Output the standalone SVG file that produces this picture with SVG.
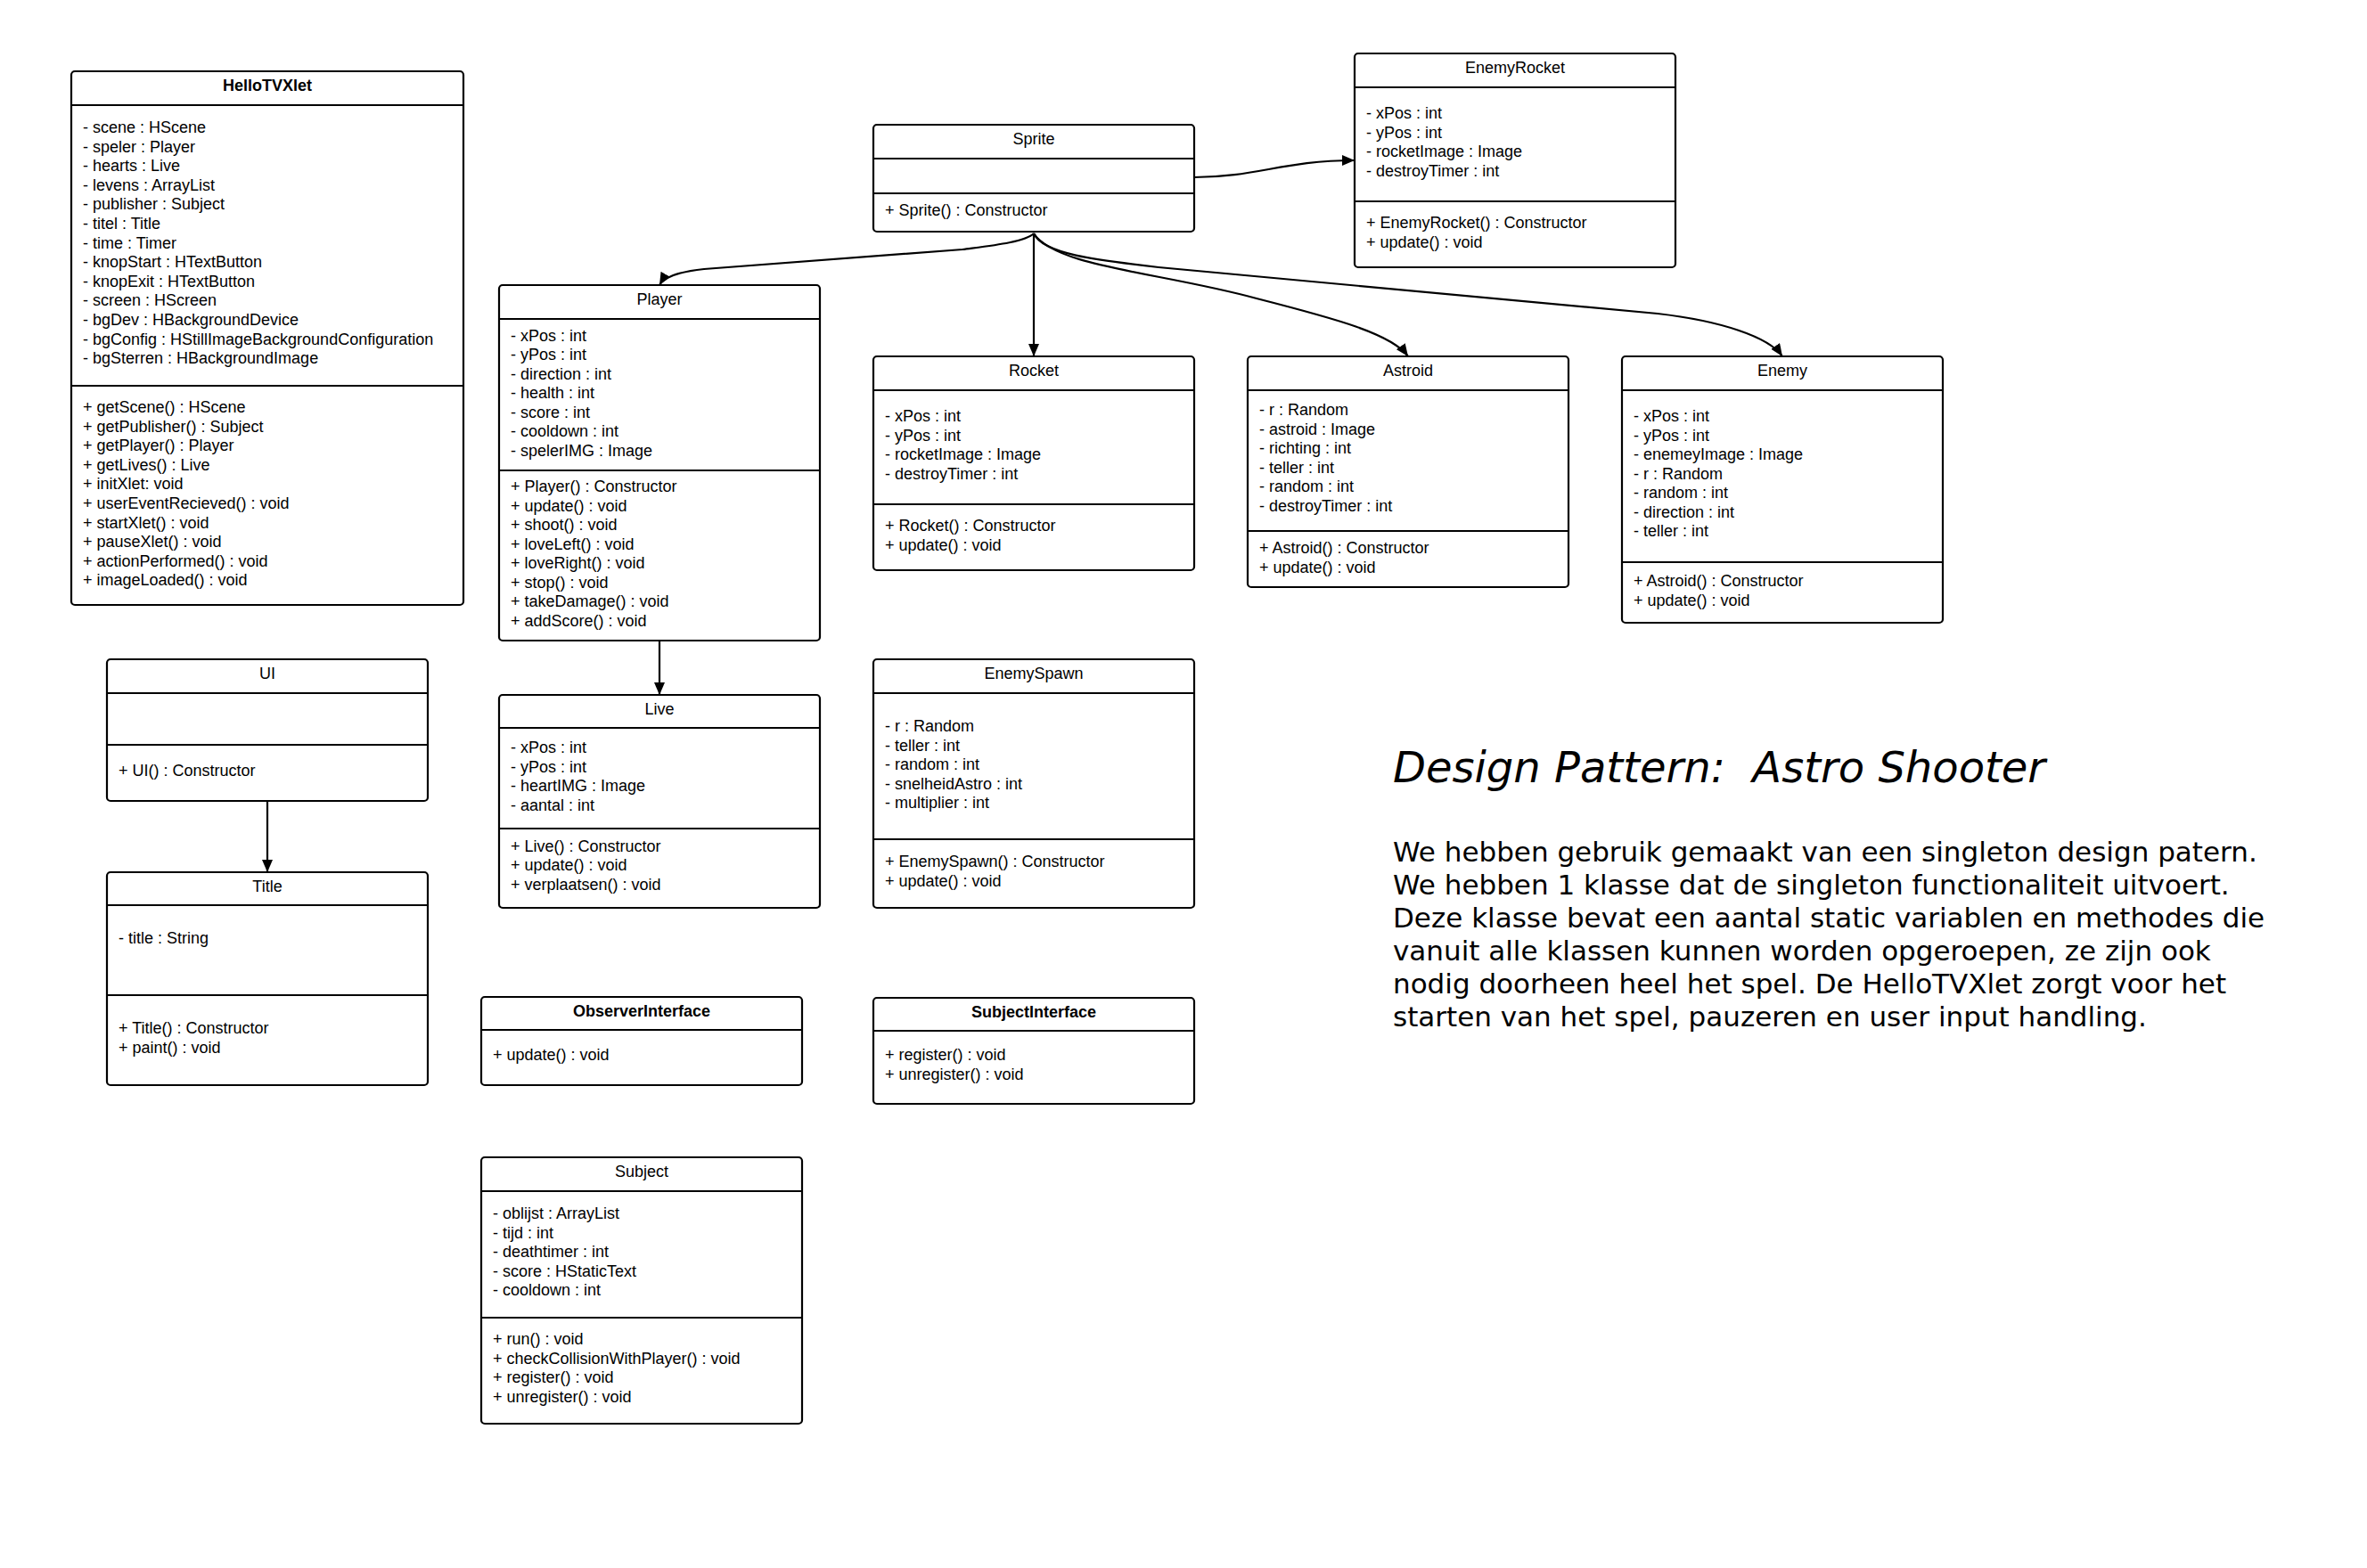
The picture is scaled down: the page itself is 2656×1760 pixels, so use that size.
<svg xmlns="http://www.w3.org/2000/svg" width="2656" height="1760" viewBox="0 0 2656 1760">
<style>
.box{fill:#fff;stroke:#000;stroke-width:2.2}
.ln{stroke:#000;stroke-width:2.2;fill:none}
.t{font-family:"Liberation Sans",Arial,sans-serif;font-size:18px;fill:#000}
.h{text-anchor:middle}
.b{font-weight:bold}
.con{fill:none;stroke:#000;stroke-width:2.2;marker-end:url(#arr)}
.desc{font-family:"DejaVu Sans",Verdana,sans-serif;fill:#000}
</style>
<defs>
<marker id="arr" viewBox="0 0 14 12" refX="14" refY="6" markerWidth="14" markerHeight="12" markerUnits="userSpaceOnUse" orient="auto">
<path d="M0,0 L14,6 L0,12 z" fill="#000"/>
</marker>
</defs>
<rect width="2656" height="1760" fill="#fff"/>

<g id="connectors">
<path class="con" d="M1160,262 C1150,272 1110,276 1080,280 L790,302 C762,305 745,311 740,320"/>
<path class="con" d="M1160,262 L1160,400"/>
<path class="con" d="M1160,262 C1185,300 1300,305 1410,335 C1500,358 1562,375 1580,400"/>
<path class="con" d="M1160,262 C1170,285 1230,292 1300,300 L1860,352 C1930,360 1985,378 2000,400"/>
<path class="con" d="M1340,199 C1410,199 1440,180 1520,180"/>
<path class="con" d="M740,719 L740,780"/>
<path class="con" d="M300,899 L300,979"/>
</g>

<g id="HelloTVXlet">
<rect class="box" x="80" y="80" width="440" height="599" rx="4"/>
<line class="ln" x1="80" y1="118" x2="520" y2="118"/>
<line class="ln" x1="80" y1="433" x2="520" y2="433"/>
<text class="t h b" x="300" y="102">HelloTVXlet</text>
<text class="t" x="93" y="149">- scene : HScene</text>
<text class="t" x="93" y="170.6">- speler : Player</text>
<text class="t" x="93" y="192.2">- hearts : Live</text>
<text class="t" x="93" y="213.8">- levens : ArrayList</text>
<text class="t" x="93" y="235.4">- publisher : Subject</text>
<text class="t" x="93" y="257">- titel : Title</text>
<text class="t" x="93" y="278.6">- time : Timer</text>
<text class="t" x="93" y="300.2">- knopStart : HTextButton</text>
<text class="t" x="93" y="321.8">- knopExit : HTextButton</text>
<text class="t" x="93" y="343.4">- screen : HScreen</text>
<text class="t" x="93" y="365">- bgDev : HBackgroundDevice</text>
<text class="t" x="93" y="386.6">- bgConfig : HStillImageBackgroundConfiguration</text>
<text class="t" x="93" y="408.2">- bgSterren : HBackgroundImage</text>
<text class="t" x="93" y="463">+ getScene() : HScene</text>
<text class="t" x="93" y="484.6">+ getPublisher() : Subject</text>
<text class="t" x="93" y="506.2">+ getPlayer() : Player</text>
<text class="t" x="93" y="527.8">+ getLives() : Live</text>
<text class="t" x="93" y="549.4">+ initXlet: void</text>
<text class="t" x="93" y="571">+ userEventRecieved() : void</text>
<text class="t" x="93" y="592.6">+ startXlet() : void</text>
<text class="t" x="93" y="614.2">+ pauseXlet() : void</text>
<text class="t" x="93" y="635.8">+ actionPerformed() : void</text>
<text class="t" x="93" y="657.4">+ imageLoaded() : void</text>
</g>

<g id="Sprite">
<rect class="box" x="980" y="140" width="360" height="120" rx="4"/>
<line class="ln" x1="980" y1="178" x2="1340" y2="178"/>
<line class="ln" x1="980" y1="217" x2="1340" y2="217"/>
<text class="t h" x="1160" y="162">Sprite</text>
<text class="t" x="993" y="242">+ Sprite() : Constructor</text>
</g>

<g id="EnemyRocket">
<rect class="box" x="1520" y="60" width="360" height="240" rx="4"/>
<line class="ln" x1="1520" y1="98" x2="1880" y2="98"/>
<line class="ln" x1="1520" y1="226" x2="1880" y2="226"/>
<text class="t h" x="1700" y="82">EnemyRocket</text>
<text class="t" x="1533" y="133">- xPos : int</text>
<text class="t" x="1533" y="154.5">- yPos : int</text>
<text class="t" x="1533" y="176">- rocketImage : Image</text>
<text class="t" x="1533" y="197.5">- destroyTimer : int</text>
<text class="t" x="1533" y="256">+ EnemyRocket() : Constructor</text>
<text class="t" x="1533" y="277.5">+ update() : void</text>
</g>

<g id="Player">
<rect class="box" x="560" y="320" width="360" height="399" rx="4"/>
<line class="ln" x1="560" y1="358" x2="920" y2="358"/>
<line class="ln" x1="560" y1="528" x2="920" y2="528"/>
<text class="t h" x="740" y="342">Player</text>
<text class="t" x="573" y="382.5">- xPos : int</text>
<text class="t" x="573" y="404">- yPos : int</text>
<text class="t" x="573" y="425.5">- direction : int</text>
<text class="t" x="573" y="447">- health : int</text>
<text class="t" x="573" y="468.5">- score : int</text>
<text class="t" x="573" y="490">- cooldown : int</text>
<text class="t" x="573" y="511.5">- spelerIMG : Image</text>
<text class="t" x="573" y="552">+ Player() : Constructor</text>
<text class="t" x="573" y="573.5">+ update() : void</text>
<text class="t" x="573" y="595">+ shoot() : void</text>
<text class="t" x="573" y="616.5">+ loveLeft() : void</text>
<text class="t" x="573" y="638">+ loveRight() : void</text>
<text class="t" x="573" y="659.5">+ stop() : void</text>
<text class="t" x="573" y="681">+ takeDamage() : void</text>
<text class="t" x="573" y="702.5">+ addScore() : void</text>
</g>

<g id="Rocket">
<rect class="box" x="980" y="400" width="360" height="240" rx="4"/>
<line class="ln" x1="980" y1="438" x2="1340" y2="438"/>
<line class="ln" x1="980" y1="566" x2="1340" y2="566"/>
<text class="t h" x="1160" y="422">Rocket</text>
<text class="t" x="993" y="473">- xPos : int</text>
<text class="t" x="993" y="494.5">- yPos : int</text>
<text class="t" x="993" y="516">- rocketImage : Image</text>
<text class="t" x="993" y="537.5">- destroyTimer : int</text>
<text class="t" x="993" y="596">+ Rocket() : Constructor</text>
<text class="t" x="993" y="617.5">+ update() : void</text>
</g>

<g id="Astroid">
<rect class="box" x="1400" y="400" width="360" height="259" rx="4"/>
<line class="ln" x1="1400" y1="438" x2="1760" y2="438"/>
<line class="ln" x1="1400" y1="596" x2="1760" y2="596"/>
<text class="t h" x="1580" y="422">Astroid</text>
<text class="t" x="1413" y="466">- r : Random</text>
<text class="t" x="1413" y="487.5">- astroid : Image</text>
<text class="t" x="1413" y="509">- richting : int</text>
<text class="t" x="1413" y="530.5">- teller : int</text>
<text class="t" x="1413" y="552">- random : int</text>
<text class="t" x="1413" y="573.5">- destroyTimer : int</text>
<text class="t" x="1413" y="621">+ Astroid() : Constructor</text>
<text class="t" x="1413" y="642.5">+ update() : void</text>
</g>

<g id="Enemy">
<rect class="box" x="1820" y="400" width="360" height="299" rx="4"/>
<line class="ln" x1="1820" y1="438" x2="2180" y2="438"/>
<line class="ln" x1="1820" y1="631" x2="2180" y2="631"/>
<text class="t h" x="2000" y="422">Enemy</text>
<text class="t" x="1833" y="473">- xPos : int</text>
<text class="t" x="1833" y="494.5">- yPos : int</text>
<text class="t" x="1833" y="516">- enemeyImage : Image</text>
<text class="t" x="1833" y="537.5">- r : Random</text>
<text class="t" x="1833" y="559">- random : int</text>
<text class="t" x="1833" y="580.5">- direction : int</text>
<text class="t" x="1833" y="602">- teller : int</text>
<text class="t" x="1833" y="658">+ Astroid() : Constructor</text>
<text class="t" x="1833" y="679.5">+ update() : void</text>
</g>

<g id="UI">
<rect class="box" x="120" y="740" width="360" height="159" rx="4"/>
<line class="ln" x1="120" y1="778" x2="480" y2="778"/>
<line class="ln" x1="120" y1="836" x2="480" y2="836"/>
<text class="t h" x="300" y="762">UI</text>
<text class="t" x="133" y="871">+ UI() : Constructor</text>
</g>

<g id="Title">
<rect class="box" x="120" y="979" width="360" height="239" rx="4"/>
<line class="ln" x1="120" y1="1016" x2="480" y2="1016"/>
<line class="ln" x1="120" y1="1117" x2="480" y2="1117"/>
<text class="t h" x="300" y="1001">Title</text>
<text class="t" x="133" y="1059">- title : String</text>
<text class="t" x="133" y="1160">+ Title() : Constructor</text>
<text class="t" x="133" y="1181.5">+ paint() : void</text>
</g>

<g id="Live">
<rect class="box" x="560" y="780" width="360" height="239" rx="4"/>
<line class="ln" x1="560" y1="817" x2="920" y2="817"/>
<line class="ln" x1="560" y1="930" x2="920" y2="930"/>
<text class="t h" x="740" y="802">Live</text>
<text class="t" x="573" y="845">- xPos : int</text>
<text class="t" x="573" y="866.5">- yPos : int</text>
<text class="t" x="573" y="888">- heartIMG : Image</text>
<text class="t" x="573" y="909.5">- aantal : int</text>
<text class="t" x="573" y="955.5">+ Live() : Constructor</text>
<text class="t" x="573" y="977">+ update() : void</text>
<text class="t" x="573" y="998.5">+ verplaatsen() : void</text>
</g>

<g id="EnemySpawn">
<rect class="box" x="980" y="740" width="360" height="279" rx="4"/>
<line class="ln" x1="980" y1="778" x2="1340" y2="778"/>
<line class="ln" x1="980" y1="942" x2="1340" y2="942"/>
<text class="t h" x="1160" y="762">EnemySpawn</text>
<text class="t" x="993" y="821">- r : Random</text>
<text class="t" x="993" y="842.5">- teller : int</text>
<text class="t" x="993" y="864">- random : int</text>
<text class="t" x="993" y="885.5">- snelheidAstro : int</text>
<text class="t" x="993" y="907">- multiplier : int</text>
<text class="t" x="993" y="973">+ EnemySpawn() : Constructor</text>
<text class="t" x="993" y="994.5">+ update() : void</text>
</g>

<g id="ObserverInterface">
<rect class="box" x="540" y="1119" width="360" height="99" rx="4"/>
<line class="ln" x1="540" y1="1156" x2="900" y2="1156"/>
<text class="t h b" x="720" y="1141">ObserverInterface</text>
<text class="t" x="553" y="1190">+ update() : void</text>
</g>

<g id="SubjectInterface">
<rect class="box" x="980" y="1120" width="360" height="119" rx="4"/>
<line class="ln" x1="980" y1="1157" x2="1340" y2="1157"/>
<text class="t h b" x="1160" y="1142">SubjectInterface</text>
<text class="t" x="993" y="1190">+ register() : void</text>
<text class="t" x="993" y="1211.5">+ unregister() : void</text>
</g>

<g id="Subject">
<rect class="box" x="540" y="1299" width="360" height="299" rx="4"/>
<line class="ln" x1="540" y1="1337" x2="900" y2="1337"/>
<line class="ln" x1="540" y1="1479" x2="900" y2="1479"/>
<text class="t h" x="720" y="1321">Subject</text>
<text class="t" x="553" y="1368">- oblijst : ArrayList</text>
<text class="t" x="553" y="1389.5">- tijd : int</text>
<text class="t" x="553" y="1411">- deathtimer : int</text>
<text class="t" x="553" y="1432.5">- score : HStaticText</text>
<text class="t" x="553" y="1454">- cooldown : int</text>
<text class="t" x="553" y="1509">+ run() : void</text>
<text class="t" x="553" y="1530.5">+ checkCollisionWithPlayer() : void</text>
<text class="t" x="553" y="1552">+ register() : void</text>
<text class="t" x="553" y="1573.5">+ unregister() : void</text>
</g>

<g id="description">
<text class="desc" x="1563" y="878" font-size="48" font-style="italic" xml:space="preserve">Design Pattern:  Astro Shooter</text>
<text class="desc" font-size="31">
<tspan x="1563" y="967">We hebben gebruik gemaakt van een singleton design patern.</tspan>
<tspan x="1563" y="1004">We hebben 1 klasse dat de singleton functionaliteit uitvoert.</tspan>
<tspan x="1563" y="1041">Deze klasse bevat een aantal static variablen en methodes die</tspan>
<tspan x="1563" y="1078">vanuit alle klassen kunnen worden opgeroepen, ze zijn ook</tspan>
<tspan x="1563" y="1115">nodig doorheen heel het spel. De HelloTVXlet zorgt voor het</tspan>
<tspan x="1563" y="1152">starten van het spel, pauzeren en user input handling.</tspan>
</text>
</g>
</svg>
